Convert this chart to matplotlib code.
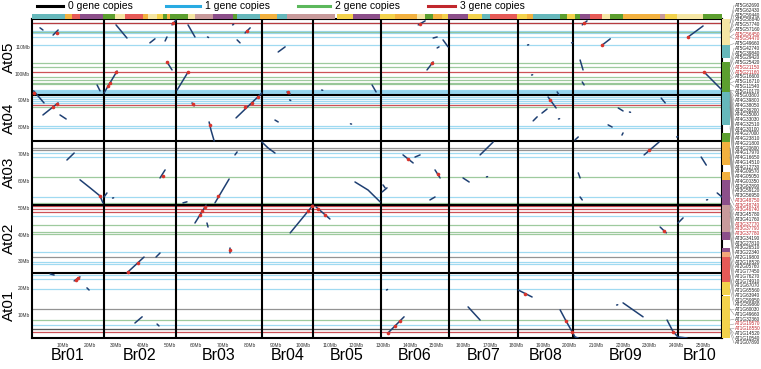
import matplotlib
matplotlib.use("Agg")
import matplotlib.pyplot as plt
import matplotlib.transforms as mtransforms
from matplotlib.lines import Line2D

plt.rcParams['font.family'] = ['Liberation Sans', 'DejaVu Sans']

W, H = 761, 369

# ---- data (Mb) -------------------------------------------------------------
br_names = ["Br01", "Br02", "Br03", "Br04", "Br05", "Br06", "Br07", "Br08", "Br09", "Br10"]
br_start = -1.6
br_ends = [25.4, 52.4, 84.6, 103.8, 129.2, 154.7, 180.6, 201.2, 240.6, 257.1]

at_names = ["At01", "At02", "At03", "At04", "At05"]
at_start = 1.4
at_ends = [25.7, 51.2, 74.9, 92.1, 120.4]

x_ticks = list(range(10, 251, 10))
y_ticks = list(range(10, 111, 10))

# horizontal gene lines: position on At axis and number of B. rapa copies
gene_line_y = [118.9, 118.9, 115.9, 115.7, 115.2, 113.7, 110.7, 104.0, 102.5, 100.6,
               98.8, 97.7, 96.5, 96.2, 93.9, 93.6, 93.2, 92.8, 92.1, 91.3, 90.6, 89.8,
               89.1, 88.3, 87.6, 80.5, 79.8, 72.3, 71.5, 70.4, 68.9, 61.5, 54.0, 51.8,
               51.0, 50.7, 49.5, 48.4, 46.9, 43.6, 41.0, 40.2, 33.5, 31.6, 29.8, 29.0,
               24.9, 23.4, 19.7, 12.2, 8.1, 6.3, 4.8, 4.8, 3.7]
gene_line_copies = [0, 3, 1, 2, 1, 1, 1, 2, 2, 3, 2, 2, 2, 2, 1, 1, 1, 1, 1, 1, 1, 1,
                    1, 3, 2, 1, 1, 0, 0, 1, 1, 2, 1, 2, 3, 3, 3, 3, 1, 2, 2, 2, 1, 0,
                    1, 1, 1, 1, 1, 0, 2, 1, 0, 0, 3]

gene_labels = [
    "AT5G62690", "AT5G62430", "AT5G59440", "AT5G58840", "AT5G57740", "AT5G57160",
    "AT5G56450", "AT5G54470", "AT5G49660", "AT5G42740", "AT5G39840", "AT5G29420",
    "AT5G25420", "AT5G21150", "AT5G21160", "AT5G16600", "AT5G16710", "AT5G11540",
    "AT5G10170", "AT5G03800", "AT4G39800", "AT4G38050", "AT4G36200", "AT4G35000",
    "AT4G33030", "AT4G32510", "AT4G30100", "AT4G27000", "AT4G23810", "AT4G21800",
    "AT4G20600", "AT4G17970", "AT4G16650", "AT4G14510", "AT4G12730", "AT4G09570",
    "AT4G05050", "AT4G00350", "AT3G62890", "AT3G59120", "AT3G56950", "AT3G48750",
    "AT3G48740", "AT3G46740", "AT3G45780", "AT3G41760", "AT3G37770", "AT3G37790",
    "AT3G37780", "AT3G34190", "AT3G27810", "AT3G26510", "AT3G22340", "AT2G19800",
    "AT2G18520", "AT2G05760", "AT1G77450", "AT1G76270", "AT1G74910", "AT1G67070",
    "AT1G65560", "AT1G63940", "AT1G59950", "AT1G59860", "AT1G60030", "AT1G49660",
    "AT1G32360", "AT1G19570", "AT1G18550", "AT1G14520", "AT1G10540", "AT1G07890"]
three_copy_genes = ["AT5G56450", "AT5G54470", "AT5G21150", "AT5G21160",
                    "AT3G48750", "AT3G48740", "AT3G46740", "AT3G37770",
                    "AT3G37790", "AT3G37780", "AT1G19570", "AT1G18550"]

# ancestral block strips (start, end, block)
top_blocks = [
    (-1.6, 10.8, "T"), (10.8, 13.4, "O"), (13.4, 16.4, "R"), (16.4, 25.0, "P"),
    (25.0, 29.5, "G"), (29.5, 33.3, "L"), (33.3, 40.0, "R"), (40.0, 41.9, "O"),
    (41.9, 45.3, "L"), (45.3, 47.5, "Y"), (47.5, 49.0, "G"), (49.0, 50.2, "O"),
    (50.2, 56.9, "G"), (56.9, 59.5, "L"), (59.5, 66.3, "S"), (66.3, 73.8, "P"),
    (73.8, 75.3, "G"), (75.3, 83.9, "T"), (83.9, 90.3, "O"), (90.3, 94.0, "T"),
    (94.0, 112.0, "S"), (112.8, 118.8, "Y"), (118.8, 128.9, "P"), (128.9, 134.5, "Y"),
    (134.5, 142.8, "O"), (142.8, 145.8, "L"), (145.8, 148.8, "G"), (148.8, 152.2, "O"),
    (152.2, 154.4, "Y"), (154.4, 161.9, "P"), (161.9, 167.2, "Y"), (167.2, 170.2, "T"),
    (170.2, 180.3, "R"), (180.3, 184.0, "Y"), (184.0, 186.3, "O"), (186.3, 196.4, "T"),
    (196.4, 199.0, "G"), (199.0, 202.0, "Y"), (202.0, 203.9, "G"), (203.9, 207.7, "P"),
    (207.7, 212.2, "R"), (212.2, 215.2, "L"), (215.2, 220.0, "G"), (220.0, 233.9, "O"),
    (233.9, 235.8, "S"), (235.8, 240.3, "Y"), (240.3, 250.0, "L"), (250.0, 257.1, "G")]
right_blocks = [
    (110.7, 120.4, "L"), (105.9, 110.7, "T"), (93.2, 104.4, "G"), (80.9, 93.2, "T"),
    (74.5, 77.9, "G"), (65.9, 74.5, "O"), (60.4, 63.3, "O"), (51.0, 60.4, "P"),
    (41.0, 51.0, "S"), (38.0, 41.0, "P"), (33.5, 35.0, "P"), (31.6, 33.5, "E"),
    (22.3, 31.6, "R"), (17.5, 22.3, "Y"), (1.4, 16.9, "Y")]

# syntenic segments (Br position, At position)
syn_segments = [
    [(1.4, 117.1), (2.5, 116.3)], [(6.3, 114.4), (8.2, 116.3)],
    [(-1.0, 93.6), (2.9, 89.1)], [(2.5, 84.6), (8.2, 89.1)], [(8.9, 84.6), (11.2, 83.1)],
    [(11.5, 67.8), (14.2, 70.4)], [(16.4, 60.4), (20.2, 57.4), (23.9, 54.4), (25.0, 51.8)],
    [(5.2, 25.3), (6.7, 24.9)], [(14.2, 22.7), (16.4, 24.2)], [(19.0, 20.1), (19.8, 19.3)],
    [(29.9, 118.2), (34.0, 113.3)], [(42.6, 111.5), (44.5, 113.0)], [(48.3, 112.2), (49.0, 113.7)],
    [(50.9, 118.2), (52.4, 120.0)], [(22.8, 95.8), (23.9, 93.6)], [(25.4, 92.8), (30.3, 101.0)],
    [(49.0, 104.4), (50.9, 101.4)], [(46.4, 61.1), (48.3, 64.1)], [(25.4, 54.0), (26.5, 55.5)],
    [(28.6, 53.6), (29.0, 53.7)], [(34.0, 25.7), (40.4, 31.6)], [(44.9, 31.6), (46.4, 33.1)],
    [(37.0, 7.0), (39.7, 9.3)], [(45.3, 6.6), (46.0, 5.9)],
    [(56.9, 118.2), (59.5, 113.7)], [(64.2, 113.7), (64.6, 113.5)], [(73.6, 118.2), (74.0, 118.4)],
    [(75.3, 112.6), (76.4, 111.5)], [(78.3, 115.2), (80.2, 117.1)], [(52.8, 93.9), (56.9, 100.6)],
    [(58.4, 89.1), (59.2, 88.0)], [(64.8, 82.0), (65.5, 79.0), (66.7, 74.9)],
    [(74.9, 83.5), (84.6, 92.8)], [(74.5, 69.7), (75.3, 70.8)], [(55.0, 51.8), (56.5, 52.2)],
    [(67.0, 51.8), (72.3, 60.7)], [(59.5, 44.3), (63.7, 51.0)], [(64.0, 44.3), (64.4, 42.8)],
    [(72.6, 35.0), (72.6, 33.1)],
    [(84.6, 74.5), (86.9, 72.3), (89.5, 70.4)], [(89.5, 82.7), (90.7, 82.0)],
    [(94.0, 93.2), (95.2, 92.4)], [(95.0, 90.2), (95.4, 90.0)], [(90.7, 108.1), (93.3, 110.0)],
    [(95.2, 40.6), (103.8, 51.0)], [(104.9, 50.3), (110.1, 45.8)],
    [(107.0, 93.9), (107.4, 93.8)], [(117.8, 81.3), (118.2, 81.2)], [(125.9, 95.8), (127.4, 93.2)],
    [(119.5, 59.6), (124.4, 56.6), (128.9, 52.2)], [(129.7, 55.9), (131.5, 57.4)],
    [(130.0, 58.5), (130.8, 57.4)],
    [(137.5, 69.7), (141.3, 66.7)], [(142.0, 68.9), (143.9, 69.7)], [(149.5, 64.1), (151.4, 61.1)],
    [(147.6, 52.9), (149.5, 54.0)], [(146.5, 101.4), (148.8, 104.4)], [(148.8, 113.3), (150.3, 113.7)],
    [(152.5, 112.6), (154.4, 110.0)], [(150.3, 109.6), (151.0, 110.0)], [(143.2, 118.2), (145.8, 119.7)],
    [(131.9, 3.3), (137.9, 9.3)], [(131.3, 19.3), (131.7, 19.5)],
    [(160.0, 61.1), (162.3, 59.6)], [(168.8, 61.5), (169.2, 61.6)], [(166.4, 69.7), (171.3, 74.5)],
    [(161.9, 13.0), (166.4, 8.1)],
    [(185.7, 99.5), (186.1, 99.6)], [(191.9, 91.3), (194.9, 87.2)], [(195.3, 93.2), (196.0, 92.1)],
    [(186.3, 82.4), (187.8, 83.9)], [(189.6, 85.3), (191.5, 86.8)], [(195.8, 83.1), (196.2, 83.2)],
    [(180.7, 19.3), (185.9, 16.7)], [(196.4, 11.9), (198.6, 7.8), (202.0, 1.8), (203.2, 1.4)],
    [(184.2, 110.7), (184.6, 110.8)], [(200.7, 111.5), (201.1, 111.6)],
    [(203.9, 105.1), (205.0, 101.4)], [(204.7, 96.9), (205.4, 95.8)], [(204.7, 118.2), (206.5, 119.7)],
    [(212.2, 110.7), (215.2, 113.0)], [(218.2, 87.2), (220.0, 86.1)], [(222.4, 85.7), (222.8, 85.6)],
    [(214.4, 80.9), (215.9, 80.1)], [(219.6, 77.1), (220.0, 77.9)], [(202.0, 75.3), (203.2, 76.4)],
    [(203.2, 63.0), (203.9, 61.1)], [(203.9, 54.0), (204.7, 52.9)], [(217.6, 13.7), (218.0, 13.8)],
    [(220.0, 14.5), (227.5, 9.3)], [(233.9, 42.8), (236.2, 40.6)], [(240.6, 44.3), (242.5, 46.2)],
    [(236.5, 8.1), (238.8, 3.7), (240.6, 1.8), (244.0, 1.4)], [(234.3, 90.9), (235.8, 89.1)],
    [(227.9, 69.7), (233.5, 74.5)],
    [(244.4, 113.7), (250.0, 117.8)], [(250.4, 100.6), (257.1, 93.9)], [(249.3, 68.9), (251.2, 65.9)],
    [(240.1, 76.4), (240.5, 76.5)], [(251.3, 52.9), (251.7, 53.0)], [(255.3, 55.5), (257.1, 54.0)],
]
red_points = [
    (7.8, 115.2), (-1.0, 92.8), (6.3, 87.6), (7.8, 88.7), (23.9, 54.4), (15.0, 23.2), (15.8, 23.8),
    (51.3, 118.9), (26.9, 95.3), (27.7, 96.6), (29.9, 100.6), (49.0, 104.4), (47.5, 62.0),
    (34.4, 26.0), (38.2, 29.5), (79.0, 116.0), (56.9, 100.6), (58.6, 88.8), (65.2, 80.9),
    (78.3, 87.6), (80.9, 88.9), (83.2, 91.3), (68.2, 54.4), (61.4, 47.3), (62.2, 48.6),
    (63.3, 50.4), (72.6, 34.2), (94.4, 93.0), (101.9, 48.8), (103.4, 50.5), (105.6, 49.7),
    (108.3, 47.3), (139.4, 68.2), (150.6, 62.4), (148.4, 103.9), (143.9, 118.6), (131.9, 3.3),
    (134.5, 5.9), (136.4, 7.8), (192.6, 90.3), (183.3, 18.0), (198.6, 7.8), (200.9, 3.7),
    (205.4, 118.9), (212.2, 110.7), (235.4, 41.3), (238.8, 3.7), (244.4, 113.7),
    (250.4, 100.6), (229.8, 71.4)]

# ---- styles ----------------------------------------------------------------
copy_colors = {0: "#111111", 1: "#2eaee0", 2: "#4f9f4f", 3: "#c1272d"}
copy_alpha = {0: 0.45, 1: 0.45, 2: 0.55, 3: 0.8}
legend_colors = ["#000000", "#29abe2", "#5cb85c", "#c1272d"]
block_colors = {"T": "#66b8bb", "O": "#f2b13f", "R": "#e65a57", "P": "#8c4f8a",
                "G": "#5c9f2f", "L": "#f5e6a4", "Y": "#f3d24c", "S": "#c89a9b",
                "E": "#f3a77a"}
seg_color = "#1e3f72"
dot_color = "#d8342c"

fig = plt.figure(figsize=(W / 100, H / 100), dpi=100)
fig.patch.set_facecolor("white")

L, R, T, B = 32, 722, 19, 338
ax = fig.add_axes([L / W, 1 - B / H, (R - L) / W, (B - T) / H])
ax.set_xlim(br_start, br_ends[-1])
ax.set_ylim(at_start, at_ends[-1])
ax.set_facecolor("white")

for y, c in zip(gene_line_y, gene_line_copies):
    ax.axhline(y, color=copy_colors[c], alpha=copy_alpha[c], lw=0.9, zorder=1)

for x in br_ends[:-1]:
    ax.axvline(x, color="black", lw=1.5, zorder=2)
for y in at_ends[:-1]:
    ax.axhline(y, color="black", lw=1.5, zorder=2)

for seg in syn_segments:
    xs, ys = zip(*seg)
    ax.plot(xs, ys, color=seg_color, lw=1.1, solid_capstyle="round", zorder=3)
rx, ry = zip(*red_points)
ax.plot(rx, ry, "o", color=dot_color, ms=2.6, mew=0, zorder=4)

for s in ax.spines.values():
    s.set_linewidth(1.5)
ax.set_xticks(x_ticks)
ax.set_xticklabels([f"{v}Mb" for v in x_ticks], fontsize=3.5, color="#333333")
ax.set_yticks(y_ticks)
ax.set_yticklabels([f"{v}Mb" for v in y_ticks], fontsize=3.5, color="#333333")
ax.tick_params(axis="x", length=0, pad=3.5)
ax.tick_params(axis="y", length=0, pad=1.5)

# chromosome names
bx = mtransforms.blended_transform_factory(ax.transData, fig.transFigure)
starts = [br_start] + br_ends[:-1]
for name, s, e in zip(br_names, starts, br_ends):
    ax.text((s + e) / 2, 1 - 355 / H, name, transform=bx, ha="center", va="center",
            fontsize=11.5, clip_on=False)
by = mtransforms.blended_transform_factory(fig.transFigure, ax.transData)
astarts = [at_start] + at_ends[:-1]
for name, s, e in zip(at_names, astarts, at_ends):
    ax.text(9 / W, (s + e) / 2, name, transform=by, ha="center", va="center",
            rotation=90, fontsize=11, clip_on=False)

# top block strip
axt = fig.add_axes([L / W, 1 - T / H, (R - L) / W, 5 / H])
for s, e, k in top_blocks:
    axt.barh(0, e - s, left=s, height=1, color=block_colors[k], lw=0)
axt.set_xlim(br_start, br_ends[-1])
axt.set_ylim(-0.5, 0.5)
axt.axis("off")

# right block strip
axr = fig.add_axes([R / W, 1 - B / H, 8 / W, (B - T) / H])
for s, e, k in right_blocks:
    axr.bar(0, e - s, bottom=s, width=1, color=block_colors[k], lw=0)
axr.set_ylim(at_start, at_ends[-1])
axr.set_xlim(-0.5, 0.5)
axr.axis("off")

# gene labels with connector lines
n_lab = len(gene_labels)
n_line = len(gene_line_y)
top_px, bot_px = 5.5, 343.0
for i, name in enumerate(gene_labels):
    ly = top_px + i * (bot_px - top_px) / (n_lab - 1)
    gy = gene_line_y[round(i * (n_line - 1) / (n_lab - 1))]
    gy_px = B - (gy - at_start) / (at_ends[-1] - at_start) * (B - T)
    fig.add_artist(Line2D([730 / W, 734 / W], [1 - gy_px / H, 1 - ly / H],
                          color="#888888", lw=0.35))
    col = "#c1272d" if name in three_copy_genes else "#222222"
    fig.text(734.5 / W, 1 - ly / H, name, fontsize=3.4, color=col,
             ha="left", va="center")

# legend
legend_items = ["0 gene copies", "1 gene copies", "2 gene copies", "3 gene copies"]
leg_x = [(37, 63), (166, 200), (298, 330), (428, 455)]
for (x0, x1), lab, c in zip(leg_x, legend_items, legend_colors):
    fig.add_artist(Line2D([x0 / W, x1 / W], [1 - 6 / H, 1 - 6 / H], color=c, lw=2.2))
    fig.text((x1 + 5) / W, 1 - 6 / H, lab, fontsize=7.5, ha="left", va="center")

fig.savefig("out.png", dpi=100, facecolor="white")
